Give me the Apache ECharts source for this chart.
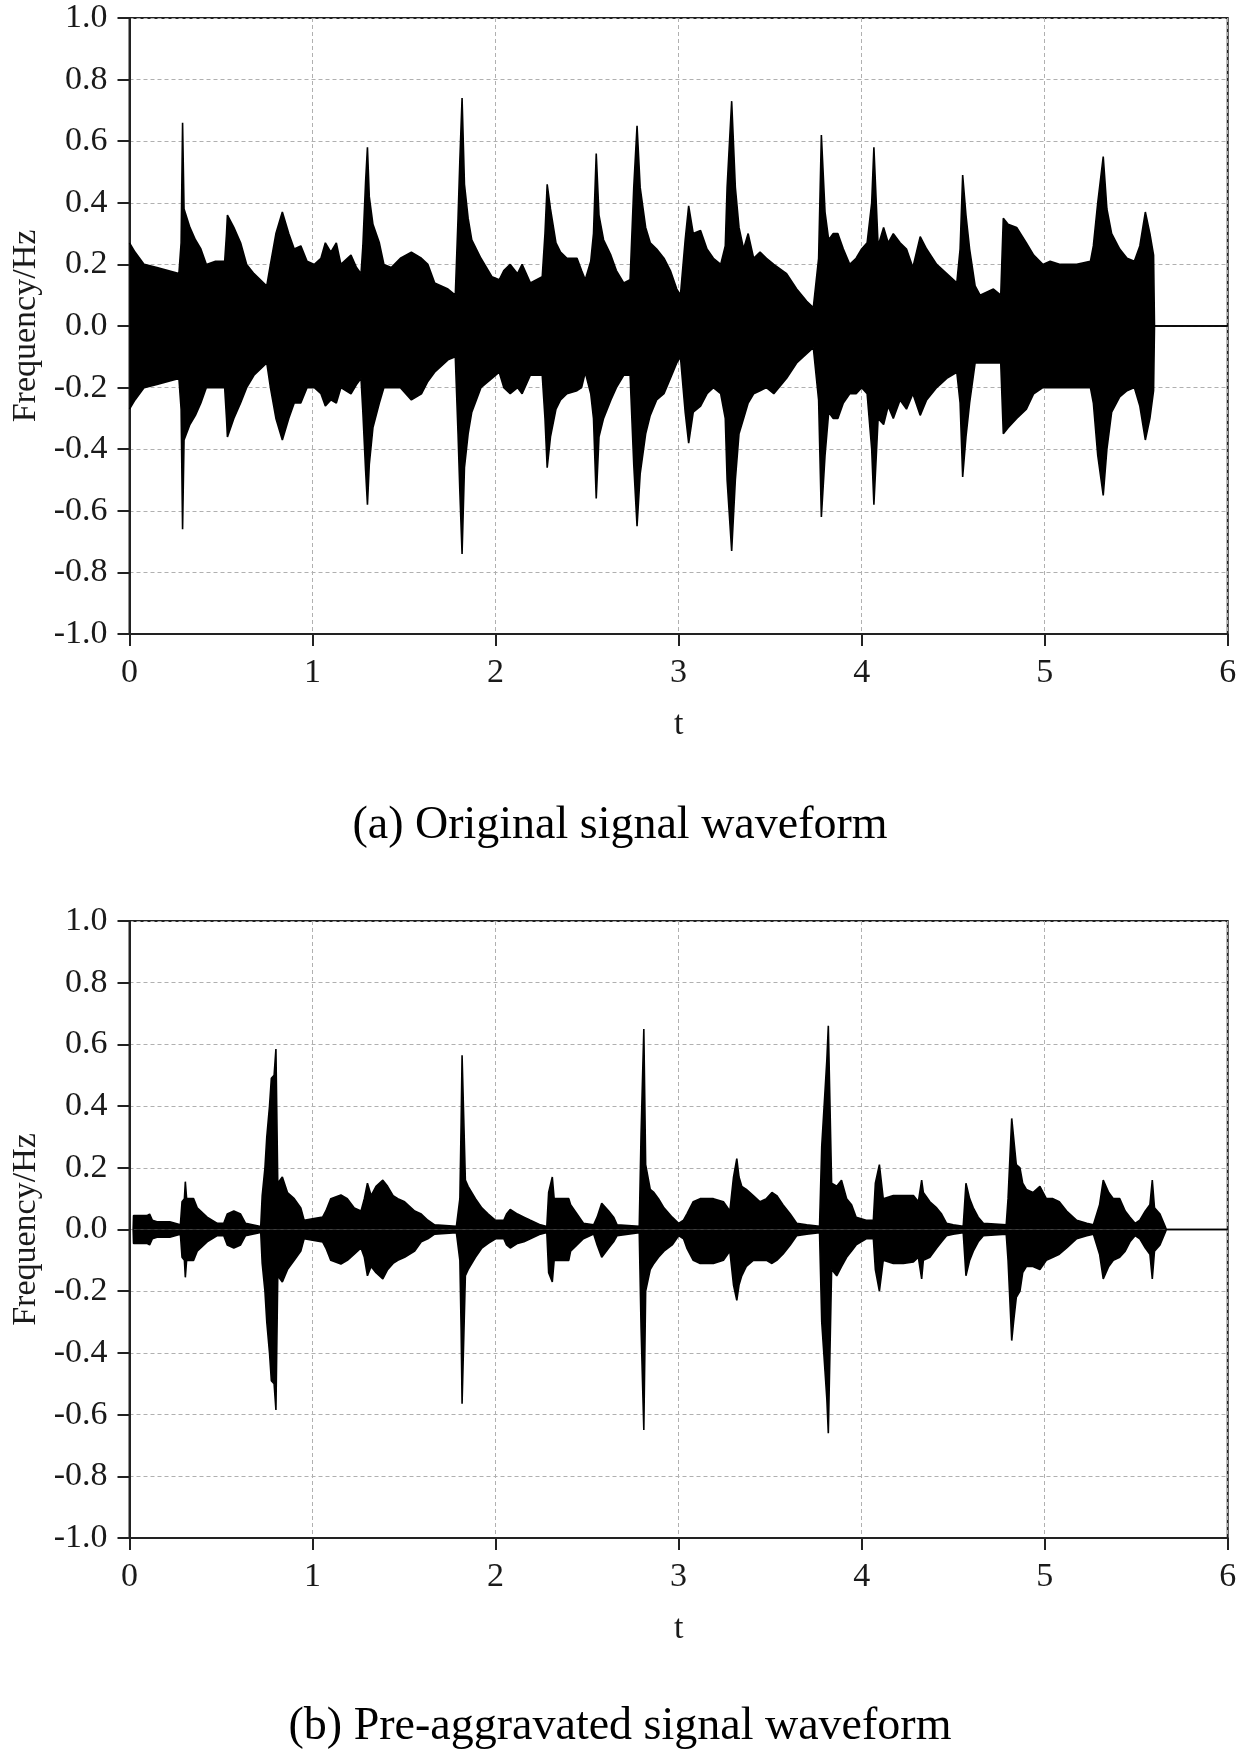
<!DOCTYPE html>
<html>
<head>
<meta charset="utf-8">
<script src="https://cdn.jsdelivr.net/npm/echarts@6/dist/echarts.min.js"></script>
<style>
html,body{margin:0;padding:0;background:#fff;}
#chart{width:1240px;height:1750px;}
</style>
</head>
<body>
<div id="chart"></div>
<script>
// ---- Tick labels / captions ----
var xTicks = [0, 1, 2, 3, 4, 5, 6];
var captionA = '(a) Original signal waveform';
var captionB = '(b) Pre-aggravated signal waveform';
var xName = 't';
var yName = 'Frequency/Hz';

// ---- (a) Original signal: envelope ----
var tA = [0.000,0.030,0.080,0.150,0.270,0.282,0.290,0.298,0.330,0.360,0.390,0.420,0.470,0.520,0.530,0.535,0.570,0.607,0.640,0.680,0.750,0.770,0.800,0.835,0.870,0.900,0.936,0.970,1.010,1.046,1.070,1.100,1.130,1.155,1.210,1.240,1.265,1.275,1.290,1.300,1.310,1.330,1.365,1.390,1.430,1.480,1.540,1.595,1.630,1.667,1.740,1.780,1.795,1.805,1.817,1.830,1.850,1.870,1.920,1.980,2.020,2.045,2.080,2.120,2.145,2.190,2.255,2.270,2.282,2.300,2.330,2.355,2.390,2.445,2.470,2.490,2.520,2.535,2.550,2.565,2.590,2.630,2.660,2.700,2.735,2.755,2.773,2.790,2.820,2.845,2.880,2.920,2.955,2.990,3.010,3.036,3.055,3.080,3.120,3.155,3.190,3.230,3.255,3.265,3.290,3.310,3.330,3.355,3.380,3.410,3.445,3.480,3.520,3.590,3.645,3.700,3.736,3.765,3.780,3.800,3.820,3.845,3.870,3.900,3.935,3.970,4.000,4.030,4.055,4.067,4.090,4.120,4.145,4.173,4.210,4.245,4.280,4.320,4.355,4.410,4.465,4.520,4.538,4.552,4.570,4.590,4.620,4.647,4.720,4.760,4.774,4.800,4.847,4.900,4.940,4.990,5.030,5.085,5.175,5.250,5.266,5.290,5.320,5.340,5.366,5.410,5.450,5.490,5.520,5.550,5.575,5.595,5.600,6.000];
var upA = [0.27,0.24,0.20,0.19,0.17,0.27,0.66,0.38,0.32,0.28,0.25,0.20,0.21,0.21,0.30,0.36,0.32,0.27,0.20,0.17,0.13,0.20,0.30,0.37,0.30,0.25,0.26,0.21,0.20,0.22,0.27,0.24,0.27,0.20,0.23,0.19,0.17,0.26,0.47,0.58,0.42,0.33,0.27,0.20,0.19,0.22,0.24,0.22,0.20,0.14,0.12,0.10,0.35,0.54,0.74,0.46,0.35,0.28,0.22,0.16,0.15,0.18,0.20,0.17,0.20,0.14,0.16,0.30,0.46,0.38,0.27,0.24,0.22,0.22,0.18,0.15,0.21,0.30,0.56,0.36,0.28,0.23,0.18,0.14,0.15,0.45,0.65,0.45,0.32,0.27,0.25,0.22,0.18,0.12,0.10,0.28,0.39,0.30,0.31,0.25,0.22,0.20,0.26,0.45,0.73,0.45,0.32,0.25,0.30,0.22,0.24,0.22,0.20,0.17,0.12,0.08,0.06,0.22,0.62,0.37,0.28,0.30,0.30,0.25,0.20,0.22,0.25,0.27,0.40,0.58,0.26,0.32,0.27,0.30,0.27,0.25,0.19,0.29,0.25,0.20,0.17,0.14,0.25,0.49,0.36,0.25,0.13,0.10,0.12,0.10,0.35,0.33,0.32,0.27,0.23,0.20,0.21,0.20,0.20,0.21,0.26,0.40,0.55,0.38,0.30,0.25,0.22,0.21,0.26,0.37,0.30,0.23,0.00,0.00];
var loA = [-0.27,-0.24,-0.20,-0.19,-0.17,-0.27,-0.66,-0.37,-0.32,-0.29,-0.25,-0.20,-0.20,-0.20,-0.30,-0.36,-0.30,-0.25,-0.20,-0.16,-0.12,-0.20,-0.30,-0.37,-0.30,-0.25,-0.25,-0.20,-0.20,-0.22,-0.26,-0.24,-0.25,-0.20,-0.22,-0.19,-0.17,-0.28,-0.47,-0.58,-0.45,-0.33,-0.25,-0.20,-0.20,-0.20,-0.24,-0.22,-0.18,-0.15,-0.11,-0.10,-0.35,-0.54,-0.74,-0.46,-0.35,-0.28,-0.20,-0.17,-0.15,-0.20,-0.22,-0.20,-0.22,-0.16,-0.16,-0.30,-0.46,-0.36,-0.27,-0.24,-0.22,-0.21,-0.20,-0.15,-0.22,-0.30,-0.56,-0.36,-0.30,-0.24,-0.20,-0.16,-0.16,-0.45,-0.65,-0.48,-0.35,-0.29,-0.24,-0.22,-0.17,-0.12,-0.10,-0.28,-0.38,-0.28,-0.26,-0.22,-0.20,-0.22,-0.30,-0.50,-0.73,-0.50,-0.35,-0.30,-0.25,-0.22,-0.21,-0.20,-0.22,-0.17,-0.12,-0.09,-0.07,-0.24,-0.62,-0.42,-0.28,-0.30,-0.30,-0.25,-0.22,-0.22,-0.20,-0.22,-0.40,-0.58,-0.30,-0.32,-0.26,-0.30,-0.24,-0.27,-0.22,-0.29,-0.24,-0.20,-0.17,-0.15,-0.25,-0.49,-0.36,-0.25,-0.12,-0.12,-0.12,-0.12,-0.35,-0.33,-0.30,-0.27,-0.22,-0.20,-0.20,-0.20,-0.20,-0.20,-0.25,-0.42,-0.55,-0.40,-0.28,-0.23,-0.21,-0.20,-0.26,-0.37,-0.30,-0.21,0.00,0.00];

// ---- (b) Pre-aggravated signal: envelope ----
var tB = [0.020,0.022,0.095,0.110,0.125,0.150,0.220,0.278,0.287,0.300,0.305,0.312,0.350,0.370,0.424,0.480,0.515,0.534,0.570,0.607,0.634,0.717,0.725,0.740,0.750,0.765,0.775,0.790,0.800,0.810,0.835,0.863,0.900,0.936,0.954,1.000,1.055,1.073,1.100,1.155,1.190,1.228,1.265,1.283,1.300,1.320,1.347,1.384,1.410,1.440,1.466,1.503,1.558,1.594,1.630,1.667,1.786,1.805,1.812,1.817,1.835,1.850,1.890,1.925,1.960,2.000,2.045,2.060,2.080,2.120,2.155,2.190,2.245,2.280,2.290,2.310,2.320,2.400,2.410,2.445,2.480,2.536,2.555,2.580,2.618,2.645,2.664,2.785,2.795,2.810,2.820,2.845,2.865,2.890,2.920,2.965,3.000,3.027,3.045,3.080,3.118,3.190,3.245,3.280,3.300,3.318,3.330,3.345,3.370,3.408,3.445,3.480,3.510,3.536,3.570,3.610,3.645,3.700,3.770,3.782,3.800,3.810,3.818,3.836,3.864,3.890,3.918,3.945,3.970,4.025,4.064,4.075,4.097,4.118,4.173,4.228,4.283,4.310,4.328,4.337,4.373,4.410,4.437,4.464,4.500,4.555,4.570,4.590,4.610,4.637,4.665,4.790,4.800,4.820,4.830,4.845,4.865,4.880,4.900,4.936,4.974,5.009,5.045,5.080,5.120,5.175,5.230,5.266,5.300,5.320,5.350,5.375,5.410,5.440,5.466,5.494,5.520,5.550,5.575,5.588,5.600,5.630,5.658,5.665,6.000];
var upB = [0.000,0.045,0.045,0.050,0.030,0.025,0.025,0.015,0.090,0.100,0.155,0.100,0.100,0.070,0.040,0.020,0.020,0.050,0.060,0.050,0.020,0.010,0.110,0.200,0.300,0.400,0.490,0.500,0.585,0.150,0.170,0.120,0.100,0.070,0.030,0.035,0.040,0.060,0.100,0.112,0.100,0.070,0.060,0.100,0.150,0.110,0.140,0.160,0.140,0.110,0.100,0.090,0.060,0.050,0.030,0.015,0.010,0.100,0.350,0.565,0.160,0.140,0.100,0.070,0.050,0.030,0.030,0.050,0.065,0.050,0.040,0.030,0.015,0.010,0.120,0.170,0.100,0.100,0.080,0.050,0.020,0.015,0.040,0.085,0.060,0.040,0.015,0.010,0.310,0.650,0.210,0.130,0.120,0.100,0.070,0.040,0.020,0.030,0.050,0.090,0.100,0.100,0.090,0.060,0.170,0.230,0.170,0.140,0.130,0.110,0.090,0.100,0.120,0.110,0.080,0.050,0.020,0.015,0.010,0.270,0.450,0.550,0.660,0.150,0.140,0.160,0.100,0.080,0.040,0.030,0.030,0.150,0.210,0.100,0.110,0.110,0.110,0.090,0.160,0.120,0.090,0.070,0.050,0.020,0.015,0.010,0.150,0.100,0.070,0.040,0.020,0.015,0.100,0.360,0.300,0.210,0.200,0.150,0.130,0.120,0.140,0.100,0.100,0.090,0.060,0.030,0.020,0.015,0.080,0.160,0.120,0.100,0.100,0.060,0.040,0.020,0.030,0.060,0.080,0.160,0.070,0.050,0.010,0.000,0.000];
var loB = [0.000,-0.045,-0.045,-0.050,-0.030,-0.025,-0.025,-0.015,-0.090,-0.100,-0.155,-0.100,-0.100,-0.070,-0.040,-0.020,-0.020,-0.050,-0.060,-0.050,-0.020,-0.010,-0.110,-0.200,-0.300,-0.400,-0.490,-0.500,-0.585,-0.150,-0.170,-0.130,-0.100,-0.070,-0.030,-0.035,-0.040,-0.060,-0.100,-0.112,-0.100,-0.080,-0.060,-0.090,-0.150,-0.120,-0.140,-0.160,-0.130,-0.110,-0.100,-0.090,-0.070,-0.040,-0.030,-0.015,-0.010,-0.100,-0.330,-0.565,-0.150,-0.130,-0.090,-0.060,-0.045,-0.030,-0.030,-0.050,-0.060,-0.045,-0.040,-0.030,-0.015,-0.010,-0.140,-0.170,-0.100,-0.100,-0.070,-0.050,-0.030,-0.015,-0.050,-0.090,-0.060,-0.040,-0.020,-0.010,-0.320,-0.650,-0.200,-0.130,-0.110,-0.090,-0.070,-0.050,-0.020,-0.030,-0.060,-0.100,-0.110,-0.110,-0.100,-0.070,-0.180,-0.230,-0.180,-0.150,-0.120,-0.100,-0.100,-0.100,-0.110,-0.100,-0.080,-0.050,-0.020,-0.015,-0.010,-0.300,-0.460,-0.550,-0.660,-0.130,-0.150,-0.120,-0.090,-0.070,-0.050,-0.030,-0.030,-0.130,-0.200,-0.100,-0.110,-0.110,-0.105,-0.090,-0.160,-0.100,-0.090,-0.060,-0.040,-0.020,-0.015,-0.010,-0.150,-0.100,-0.070,-0.040,-0.020,-0.015,-0.100,-0.360,-0.300,-0.220,-0.200,-0.140,-0.120,-0.120,-0.130,-0.100,-0.090,-0.080,-0.060,-0.030,-0.020,-0.015,-0.080,-0.160,-0.120,-0.100,-0.090,-0.070,-0.040,-0.020,-0.030,-0.060,-0.080,-0.160,-0.070,-0.050,-0.010,0.000,0.000];

// ---- build ----
function pairs(t, v) { return t.map(function (x, i) { return [x, v[i]]; }); }

var FONT = '"Liberation Serif", "DejaVu Serif", serif';
var TXT = '#1a1a1a';

function xAxisCfg(gi) {
  return {
    type: 'value', gridIndex: gi, min: xTicks[0], max: xTicks[xTicks.length - 1], interval: 1,
    name: xName, nameLocation: 'middle', nameGap: 74,
    nameTextStyle: { fontFamily: FONT, fontSize: 34, color: TXT },
    axisLine: { onZero: false, lineStyle: { color: '#222', width: 2 } },
    axisTick: { length: 12, inside: false, lineStyle: { color: '#222', width: 2 } },
    axisLabel: { fontFamily: FONT, fontSize: 34, color: TXT, margin: 22 },
    splitLine: { show: true, lineStyle: { color: '#b0b0b0', type: [4, 3], width: 1 } }
  };
}
function yAxisCfg(gi) {
  return {
    type: 'value', gridIndex: gi, min: -1, max: 1, interval: 0.2,
    name: yName, nameLocation: 'middle', nameGap: 86,
    nameTextStyle: { fontFamily: FONT, fontSize: 34, color: TXT },
    axisLine: { onZero: false, lineStyle: { color: '#222', width: 2 } },
    axisTick: { length: 12, inside: false, lineStyle: { color: '#222', width: 2 } },
    axisLabel: { fontFamily: FONT, fontSize: 34, color: TXT, margin: 22,
      formatter: function (v) { return v.toFixed(1); } },
    splitLine: { show: true, lineStyle: { color: '#b0b0b0', type: [4, 3], width: 1 } }
  };
}
function env(gi, t, v) {
  return {
    type: 'line', xAxisIndex: gi, yAxisIndex: gi, data: pairs(t, v),
    symbol: 'none', silent: true, animation: false,
    lineStyle: { color: '#000', width: 1.6 },
    areaStyle: { color: '#000', opacity: 1, origin: 0 }
  };
}

var chart = echarts.init(document.getElementById('chart'), null, { renderer: 'canvas' });
chart.setOption({
  backgroundColor: '#ffffff',
  animation: false,
  grid: [
    { left: 129.5, right: 12.3, top: 18, height: 616, show: true, borderColor: '#222', borderWidth: 2, backgroundColor: 'transparent' },
    { left: 129.5, right: 12.3, top: 921, height: 617, show: true, borderColor: '#222', borderWidth: 2, backgroundColor: 'transparent' }
  ],
  xAxis: [xAxisCfg(0), xAxisCfg(1)],
  yAxis: [yAxisCfg(0), yAxisCfg(1)],
  series: [
    env(0, tA, upA), env(0, tA, loA),
    env(1, tB, upB), env(1, tB, loB)
  ],
  graphic: [
    { type: 'text', left: 'center', top: 803, style: { text: captionA, font: '46px ' + FONT, fill: '#000' } },
    { type: 'text', left: 'center', top: 1704, style: { text: captionB, font: '46px ' + FONT, fill: '#000' } }
  ]
});
</script>
</body>
</html>
